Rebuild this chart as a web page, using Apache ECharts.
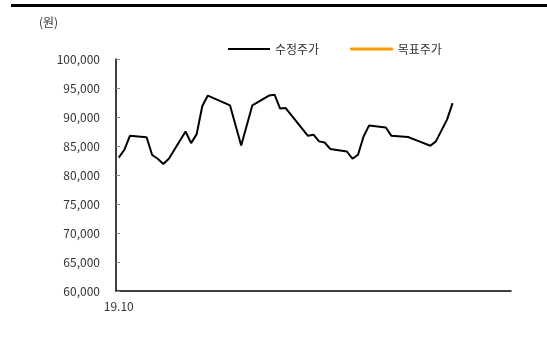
<!DOCTYPE html>
<html>
<head>
<meta charset="utf-8">
<script src="https://cdn.jsdelivr.net/npm/echarts@6/dist/echarts.min.js"></script>
<style>
  html, body { margin: 0; padding: 0; background: #fff; }
  #chart { width: 547px; height: 338px; }
</style>
</head>
<body>
<div id="chart"></div>
<script>
// x축 슬롯 수 (주 단위 근사), 첫 슬롯만 라벨 표시
const slotCount = 71;
const tickLabels = { 0: "19.10" };

// 수정주가: 꺾이는 지점의 슬롯 번호와 값
const priceSlots = [0, 1, 2, 5, 6, 7, 8, 9, 12, 13, 14, 15, 16, 20, 22, 24, 27, 28, 29, 30,
  34, 35, 36, 37, 38, 41, 42, 43, 44, 45, 48, 49, 52, 54, 56, 57, 59, 60];
const priceValues = [83000, 84350, 86750, 86500, 83450, 82800, 81900, 82800, 87500, 85500,
  87050, 91850, 93700, 92000, 85100, 92000, 93700, 93850, 91450, 91550,
  86750, 86950, 85800, 85600, 84500, 84050, 82800, 83500, 86650, 88550,
  88200, 86750, 86550, 85800, 85050, 85800, 89550, 92400];

// 목표주가: 표시된 값 없음 (범례만)
const targetValues = [];

const yTicks = { min: 60000, max: 100000, step: 5000 };

const FONT = "'Noto Sans CJK KR', 'Noto Sans', sans-serif";
const TEXT = "#333";

const categories = Array.from({ length: slotCount }, (_, i) => tickLabels[i] || "");
const priceSeries = Array(slotCount).fill(null);
priceSlots.forEach((s, i) => { priceSeries[s] = priceValues[i]; });

const chart = echarts.init(document.getElementById("chart"), null, { renderer: "canvas" });

chart.setOption({
  animation: false,
  textStyle: { fontFamily: FONT },
  title: {
    text: "(원)",
    left: 34,
    top: 11,
    textStyle: { fontSize: 12, fontWeight: "normal", color: TEXT, fontFamily: FONT },
  },
  graphic: [
    { type: "rect", shape: { x: 11, y: 4, width: 536, height: 3 }, style: { fill: "#000" } },
  ],
  legend: {
    left: 223,
    top: 38,
    itemWidth: 42,
    itemHeight: 2,
    itemGap: 31,
    textStyle: { fontSize: 12, color: TEXT, fontFamily: FONT },
    data: [
      { name: "수정주가", icon: "rect" },
      { name: "목표주가", icon: "rect", itemStyle: { borderColor: "#FF9900", borderWidth: 1 } },
    ],
  },
  grid: { left: 116, right: 36, top: 59, bottom: 47 },
  xAxis: {
    type: "category",
    data: categories,
    boundaryGap: true,
    axisLine: { lineStyle: { color: "#000", width: 1.5 } },
    axisTick: { show: false },
    axisLabel: { interval: 0, color: TEXT, fontSize: 12, margin: 9, fontFamily: FONT },
  },
  yAxis: {
    type: "value",
    min: yTicks.min,
    max: yTicks.max,
    interval: yTicks.step,
    axisLine: { show: true, lineStyle: { color: "#000", width: 1.5 } },
    axisTick: { show: true, inside: true, length: 4, lineStyle: { color: "#888" } },
    splitLine: { show: false },
    axisLabel: {
      color: TEXT,
      fontSize: 12,
      margin: 16,
      fontFamily: FONT,
      formatter: (v) => v.toLocaleString("en-US"),
    },
  },
  series: [
    {
      name: "수정주가",
      type: "line",
      data: priceSeries,
      connectNulls: true,
      symbol: "none",
      lineStyle: { color: "#000", width: 2 },
      itemStyle: { color: "#000" },
    },
    {
      name: "목표주가",
      type: "line",
      data: targetValues,
      symbol: "none",
      lineStyle: { color: "#FF9900", width: 3 },
      itemStyle: { color: "#FF9900" },
    },
  ],
});
</script>
</body>
</html>
